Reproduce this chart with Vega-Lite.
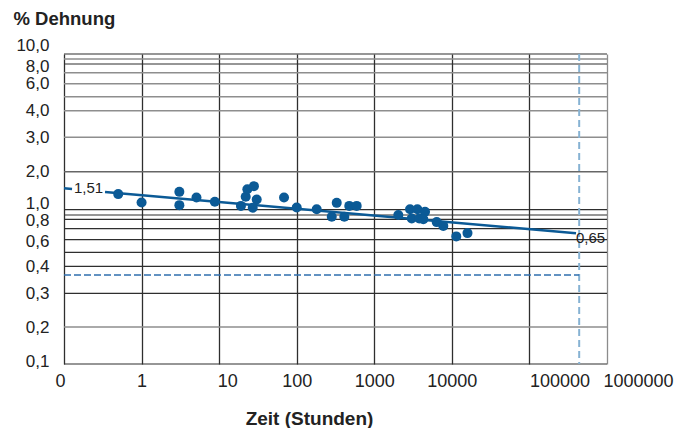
{
  "$schema": "https://vega.github.io/schema/vega-lite/v6.json",
  "width": 543,
  "height": 310,
  "autosize": {"type": "none"},
  "padding": {"left": 64, "top": 54, "right": 81, "bottom": 64},
  "background": "white",
  "config": {
    "view": {"stroke": null},
    "font": "Liberation Sans",
    "axis": {"labelFont": "Liberation Sans", "titleFont": "Liberation Sans", "labelOverlap": false, "labelFlush": false, "labelBound": false}
  },
  "datasets": {
    "hgrid": [
      {"g": 10, "t": "d"}, {"g": 9, "t": "l"}, {"g": 8, "t": "d"}, {"g": 7, "t": "l"},
      {"g": 6, "t": "l"}, {"g": 5, "t": "l"}, {"g": 4, "t": "l"}, {"g": 3, "t": "l"},
      {"g": 2, "t": "m"}, {"g": 1, "t": "d"}, {"g": 0.9, "t": "d"}, {"g": 0.8, "t": "d"},
      {"g": 0.7, "t": "d"}, {"g": 0.6, "t": "d"}, {"g": 0.5, "t": "d"}, {"g": 0.4, "t": "d"},
      {"g": 0.3, "t": "d"}, {"g": 0.2, "t": "l"}, {"g": 0.1, "t": "d"}
    ],
    "points": [
      {"h": 0.5, "e": 1.41}, {"h": 1.0, "e": 1.19}, {"h": 3.07, "e": 1.47}, {"h": 3.07, "e": 1.12},
      {"h": 5.1, "e": 1.32}, {"h": 8.8, "e": 1.21}, {"h": 19.1, "e": 1.10}, {"h": 22, "e": 1.34},
      {"h": 23.1, "e": 1.54}, {"h": 28.1, "e": 1.62}, {"h": 30.5, "e": 1.27}, {"h": 27.1, "e": 1.05},
      {"h": 68.6, "e": 1.32}, {"h": 100, "e": 1.06}, {"h": 181, "e": 1.01}, {"h": 283, "e": 0.86},
      {"h": 328, "e": 1.18}, {"h": 411, "e": 0.86}, {"h": 476, "e": 1.10}, {"h": 593, "e": 1.10},
      {"h": 2040, "e": 0.90}, {"h": 2890, "e": 1.01}, {"h": 3590, "e": 1.01}, {"h": 4510, "e": 0.96},
      {"h": 3040, "e": 0.82}, {"h": 3800, "e": 0.82}, {"h": 4290, "e": 0.80}, {"h": 6380, "e": 0.77},
      {"h": 7760, "e": 0.73}, {"h": 11400, "e": 0.63}, {"h": 15900, "e": 0.66}
    ],
    "trend": [
      {"h": 0.1, "e": 1.563, "seg": "a"}, {"h": 0.127, "e": 1.545, "seg": "a"},
      {"h": 0.338, "e": 1.468, "seg": "b"}, {"h": 398600, "e": 0.658, "seg": "b"}
    ],
    "notes": [
      {"h": 0.1346, "e": 1.571, "txt": "1,51"},
      {"h": 398600, "e": 0.613, "txt": "0,65"}
    ],
    "hdash": [{"h": 0.1, "h2": 438000, "e": 0.368}],
    "vdash": [{"h": 438000, "e": 10, "e2": 0.1}]
  },
  "layer": [
    {
      "data": {"name": "points"},
      "mark": {"type": "circle", "opacity": 0},
      "encoding": {
        "x": {
          "field": "h", "type": "quantitative",
          "scale": {"type": "log", "domain": [0.1, 1000000], "nice": false},
          "axis": {
            "values": [0.1, 1, 10, 100, 1000, 10000, 100000, 1000000],
            "tickCount": 50,
            "labelExpr": "datum.value < 0.5 ? '0' : format(datum.value, 'd')",
            "domain": false, "ticks": false, "grid": true,
            "gridColor": {"condition": {"test": "datum.value > 500000", "value": "#8c8c8c"}, "value": "#2e2e2e"},
            "gridWidth": 1.3,
            "labelFontSize": 18, "labelColor": "#222", "labelPadding": 8,
            "labelOverlap": false, "labelFlush": false,
            "labelOffset": {
              "condition": [
                {"test": "datum.value < 0.5", "value": -4},
                {"test": "datum.value > 5 && datum.value < 50", "value": 8},
                {"test": "datum.value > 50000 && datum.value < 500000", "value": 30},
                {"test": "datum.value > 500000", "value": 31}
              ],
              "value": 0
            },
            "title": "Zeit (Stunden)", "titleFontSize": 19, "titleFontWeight": "bold", "titleColor": "#222",
            "titleX": 245, "titleY": 54, "titleBaseline": "middle", "titleAlign": "center"
          }
        },
        "y": {
          "field": "e", "type": "quantitative",
          "scale": {
            "type": "linear", "zero": false, "nice": false,
            "domain": [0.1, 0.2, 0.3, 0.4, 0.5, 0.6, 0.7, 0.8, 0.9, 1, 2, 3, 4, 5, 6, 7, 8, 9, 10],
            "range": [310, 273, 239.3, 212.3, 198.3, 185.7, 174.7, 165.3, 161, 155.7, 117.7, 83.3, 56.7, 42.7, 29.7, 18.7, 10, 5, 0]
          },
          "axis": {
            "values": [0.1, 0.2, 0.3, 0.4, 0.6, 0.8, 1, 2, 3, 4, 6, 8, 10],
            "tickCount": 50,
            "labelExpr": "replace(format(datum.value, '.1f'), '.', ',')",
            "domain": false, "ticks": false, "grid": false,
            "labelFontSize": 17, "labelColor": "#222", "labelPadding": 15,
            "labelOverlap": false, "labelFlush": false,
            "labelOffset": {
              "condition": [
                {"test": "datum.value > 9.5", "value": -9},
                {"test": "datum.value > 7.5 && datum.value < 8.5", "value": 2},
                {"test": "datum.value > 0.95 && datum.value < 1.05", "value": -6},
                {"test": "datum.value > 0.75 && datum.value < 0.85", "value": 1.5},
                {"test": "datum.value > 0.55 && datum.value < 0.65", "value": 1.3},
                {"test": "datum.value < 0.15", "value": -2.5}
              ],
              "value": 0
            },
            "title": "% Dehnung", "titleAngle": 0, "titleAlign": "left", "titleBaseline": "alphabetic",
            "titleX": -51, "titleY": -30, "titleFontSize": 18.5, "titleFontWeight": "bold", "titleColor": "#222"
          }
        }
      }
    },
    {
      "data": {"name": "hgrid"},
      "mark": {"type": "rule"},
      "encoding": {
        "y": {"field": "g", "type": "quantitative"},
        "color": {"field": "t", "type": "nominal", "scale": {"domain": ["d", "m", "l"], "range": ["#2e2e2e", "#666666", "#8e8e8e"]}, "legend": null},
        "strokeWidth": {"field": "t", "type": "nominal", "scale": {"domain": ["d", "m", "l"], "range": [1.2, 1.5, 1.8]}, "legend": null}
      }
    },
    {
      "data": {"name": "vdash"},
      "mark": {"type": "rule", "color": "#86b2d3", "strokeWidth": 2, "strokeDash": [7, 4]},
      "encoding": {
        "x": {"field": "h", "type": "quantitative"},
        "y": {"field": "e", "type": "quantitative"},
        "y2": {"field": "e2"}
      }
    },
    {
      "data": {"name": "hdash"},
      "mark": {"type": "rule", "color": "#2f6fae", "strokeWidth": 1.4, "strokeDash": [7, 3]},
      "encoding": {
        "x": {"field": "h", "type": "quantitative"},
        "x2": {"field": "h2"},
        "y": {"field": "e", "type": "quantitative"}
      }
    },
    {
      "data": {"name": "trend"},
      "mark": {"type": "line", "color": "#0b5a96", "strokeWidth": 2.5},
      "encoding": {
        "x": {"field": "h", "type": "quantitative"},
        "y": {"field": "e", "type": "quantitative"},
        "detail": {"field": "seg"}
      }
    },
    {
      "data": {"name": "points"},
      "mark": {"type": "circle", "color": "#0b5a96", "opacity": 1, "size": 100},
      "encoding": {
        "x": {"field": "h", "type": "quantitative"},
        "y": {"field": "e", "type": "quantitative"}
      }
    },
    {
      "data": {"name": "notes"},
      "mark": {"type": "text", "align": "left", "baseline": "middle", "fontSize": 15, "color": "#222"},
      "encoding": {
        "x": {"field": "h", "type": "quantitative"},
        "y": {"field": "e", "type": "quantitative"},
        "text": {"field": "txt"}
      }
    }
  ]
}
